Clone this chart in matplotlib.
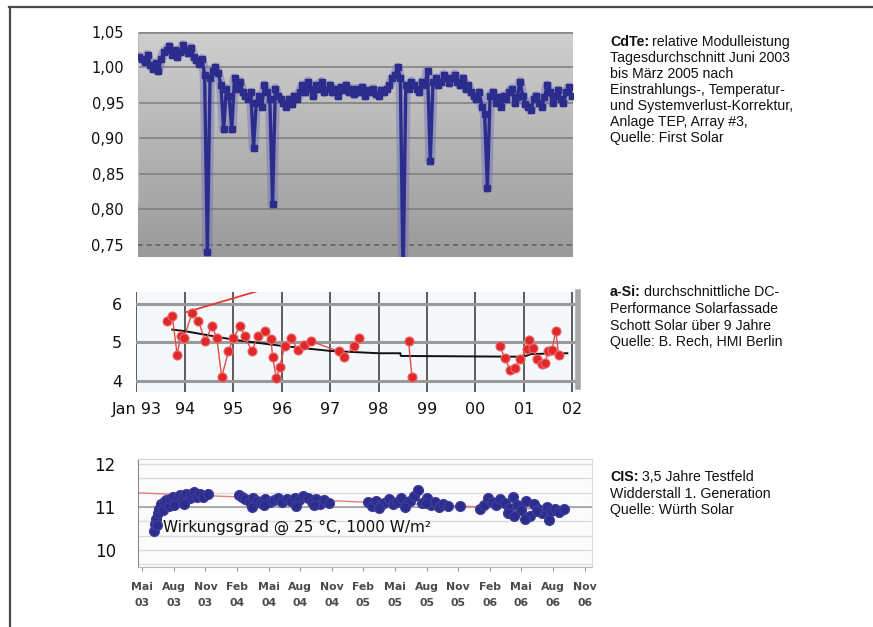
import numpy as np
import matplotlib
matplotlib.use("Agg")
import matplotlib.pyplot as plt
from matplotlib.colors import LinearSegmentedColormap
from matplotlib.lines import Line2D

# ---------------- data ----------------
# CdTe: relative module power, daily-average samples (June 2003 .. March 2005)
cdte_values = [
    1.015, 1.012, 1.008, 1.018, 1.004, 0.998, 1.006, 0.995, 1.012, 1.022,
    1.025, 1.030, 1.018, 1.024, 1.015, 1.022, 1.032, 1.025, 1.020, 1.028,
    1.015, 1.010, 1.005, 1.012, 0.990, 0.740, 0.985, 0.995, 1.000, 0.992,
    0.975, 0.913, 0.970, 0.960, 0.913, 0.985, 0.970, 0.980, 0.965, 0.960,
    0.955, 0.965, 0.887, 0.950, 0.960, 0.945, 0.975, 0.965, 0.955, 0.807,
    0.970, 0.960, 0.955, 0.950, 0.945, 0.955, 0.948, 0.960, 0.955, 0.965,
    0.975, 0.965, 0.980, 0.970, 0.960, 0.975, 0.970, 0.980, 0.965, 0.970,
    0.975, 0.965, 0.970, 0.960, 0.972, 0.968, 0.975, 0.965, 0.970, 0.962,
    0.970, 0.965, 0.972, 0.960, 0.968, 0.965, 0.970, 0.962, 0.960, 0.968,
    0.965, 0.970, 0.975, 0.985, 0.990, 1.000, 0.985, 0.700, 0.975, 0.970,
    0.980, 0.975, 0.970, 0.965, 0.980, 0.975, 0.995, 0.868, 0.980, 0.985,
    0.975, 0.980, 0.990, 0.985, 0.978, 0.985, 0.990, 0.980, 0.975, 0.985,
    0.970, 0.975, 0.965, 0.960, 0.955, 0.965, 0.945, 0.935, 0.830, 0.960,
    0.965, 0.950, 0.958, 0.945, 0.960, 0.955, 0.965, 0.970, 0.950, 0.958,
    0.980, 0.960, 0.948, 0.945, 0.940, 0.955, 0.960, 0.950, 0.945, 0.958,
    0.975, 0.965, 0.950, 0.960, 0.968, 0.955, 0.950, 0.965, 0.972, 0.960,
]
cdte_yticks = [0.75, 0.80, 0.85, 0.90, 0.95, 1.00, 1.05]
cdte_yticklabels = ["0,75", "0,80", "0,85", "0,90", "0,95", "1,00", "1,05"]

# a-Si: average DC performance (NaN = gap in the record)
asi_years = [1993.63, 1993.74, 1993.84, 1993.91, 1993.98, 1994.15, 1994.28, 1994.42,
             1994.56, 1994.66, 1994.76, 1994.90, 1995.00, 1995.14, 1995.24, 1995.38,
             1995.51, 1995.65, 1995.78, 1995.81, 1995.89, 1995.96, 1996.06, 1996.20,
             1996.33, 1996.47, 1996.60, 1997.18, 1997.29, 1997.49, 1997.60,
             1997.80,
             1998.62, 1998.69,
             1999.50,
             2000.50, 2000.61, 2000.71, 2000.82, 2000.92, 2001.06, 2001.10, 2001.20,
             2001.27, 2001.37, 2001.44, 2001.51, 2001.58, 2001.66, 2001.72]
asi_values = [5.55, 5.68, 4.68, 5.16, 5.11, 5.77, 5.55, 5.03,
              5.42, 5.11, 4.11, 4.77, 5.11, 5.42, 5.16, 4.77,
              5.16, 5.30, 5.08, 4.63, 4.07, 4.37, 4.90, 5.11,
              4.80, 4.94, 5.03, 4.77, 4.63, 4.90, 5.11,
              np.nan,
              5.03, 4.11,
              np.nan,
              4.90, 4.60, 4.30, 4.35, 4.56, 4.82, 5.07, 4.85,
              4.56, 4.44, 4.48, 4.77, 4.80, 5.29, 4.68]
asi_trend_years = [1993.74, 1994.0, 1995.0, 1996.0, 1997.0, 1998.0, 1998.45, 1998.46,
                   2001.0, 2001.15, 2001.9]
asi_trend_values = [5.33, 5.29, 5.07, 4.91, 4.78, 4.72, 4.72, 4.65,
                    4.63, 4.70, 4.72]
asi_rise_years = [1994.0, 1995.6]
asi_rise_values = [5.77, 6.36]
asi_xticks = [1993, 1994, 1995, 1996, 1997, 1998, 1999, 2000, 2001, 2002]
asi_xticklabels = ["Jan 93", "94", "95", "96", "97", "98", "99", "00", "01", "02"]
asi_yticks = [4, 5, 6]

# CIS: efficiency @ 25 °C, 1000 W/m², months since May 2003
cis_months = [1.1, 1.2, 1.3, 1.45, 1.5, 1.6, 1.8, 1.95, 2.1, 2.3, 2.5, 2.6, 2.9, 3.1,
              3.3, 3.6, 3.8, 3.9, 4.2, 4.5, 4.6, 4.9, 5.2, 5.5, 5.8, 6.2, 3.0, 4.0,
              9.2, 9.5, 9.8, 10.2, 10.5, 10.9, 11.3, 11.7, 12.1, 12.5, 12.9, 13.3,
              13.7, 14.1, 14.5, 14.9, 15.3, 15.7, 16.1, 16.5, 16.9, 17.3, 17.7, 10.4, 11.6,
              14.6, 16.3,
              21.4, 21.8, 22.2, 22.6, 23.0, 23.4, 23.8, 24.2, 24.6, 25.0, 25.4, 25.8,
              26.2, 26.6, 27.0, 27.4, 27.8, 28.2, 28.6, 29.0, 22.5, 24.9, 26.9,
              30.2,
              32.1, 32.4, 32.8, 33.2, 33.6, 34.0, 34.4, 34.8, 35.2, 35.6, 36.0, 36.4,
              36.8, 37.2, 37.6, 38.0, 38.4, 38.8, 39.2, 39.6, 40.0, 34.7, 35.3, 37.5,
              36.3, 38.6]
cis_values = [10.45, 10.60, 10.72, 10.57, 10.85, 10.96, 11.08, 10.92, 11.12, 11.16, 11.02,
              11.18, 11.24, 11.10, 11.22, 11.28, 11.14, 11.25, 11.31, 11.20, 11.30, 11.35,
              11.24, 11.31, 11.24, 11.30, 11.05, 11.08,
              11.28, 11.24, 11.18, 11.12, 11.20, 11.14, 11.10, 11.18, 11.12, 11.16, 11.20,
              11.12, 11.18, 11.15, 11.22, 11.16, 11.25, 11.20, 11.12, 11.18, 11.08, 11.16,
              11.10, 11.00, 11.04, 11.02, 11.05,
              11.12, 11.02, 11.15, 11.05, 11.10, 11.18, 11.06, 11.12, 11.22, 11.08, 11.15,
              11.25, 11.40, 11.10, 11.20, 11.05, 11.12, 11.00, 11.08, 11.02, 10.98, 11.00,
              11.10,
              11.02,
              10.96, 11.05, 11.20, 11.12, 11.05, 11.18, 11.10, 10.98, 11.24, 11.05, 10.92,
              11.15, 10.80, 11.08, 10.95, 10.85, 11.00, 10.90, 10.95, 10.88, 10.95,
              10.85, 10.78, 10.90, 10.72, 10.70]
cis_trend_months = [-0.4, 40.5]
cis_trend_values = [11.33, 10.92]
cis_xticklabels = ["Mai\n03", "Aug\n03", "Nov\n03", "Feb\n04", "Mai\n04", "Aug\n04",
                   "Nov\n04", "Feb\n05", "Mai\n05", "Aug\n05", "Nov\n05", "Feb\n06",
                   "Mai\n06", "Aug\n06", "Nov\n06"]
cis_yticks = [10, 11, 12]

note_cdte = ["relative Modulleistung", "Tagesdurchschnitt Juni 2003", "bis März 2005 nach",
             "Einstrahlungs-, Temperatur-", "und Systemverlust-Korrektur,",
             "Anlage TEP, Array #3,", "Quelle: First Solar"]
note_asi = ["durchschnittliche DC-", "Performance Solarfassade",
            "Schott Solar über 9 Jahre", "Quelle: B. Rech, HMI Berlin"]
note_cis = ["3,5 Jahre Testfeld", "Widderstall 1. Generation", "Quelle: Würth Solar"]

# ---------------- figure ----------------
W, H = 873, 627
fig = plt.figure(figsize=(W / 100, H / 100), dpi=100)
fig.patch.set_facecolor("white")


def box(l, t, r, b):
    return [l / W, 1 - b / H, (r - l) / W, (b - t) / H]


# frame lines
fig.add_artist(Line2D([9 / W, 1], [1 - 6.5 / H, 1 - 6.5 / H], transform=fig.transFigure,
                      color="#4a4a4a", lw=1.6))
fig.add_artist(Line2D([9.5 / W, 9.5 / W], [0, 1 - 6.5 / H], transform=fig.transFigure,
                      color="#4a4a4a", lw=1.6))

navy = "#2c2c8c"

# ---- CdTe ----
ax1 = fig.add_axes(box(138, 32, 573, 257))
cmap = LinearSegmentedColormap.from_list("g", ["#9a9a9a", "#cfcfcf"])
grad = np.linspace(0, 1, 256).reshape(-1, 1)
ax1.imshow(grad, extent=[0, 1, 0, 1], transform=ax1.transAxes, aspect="auto",
           cmap=cmap, origin="lower", zorder=0)
x1 = np.arange(len(cdte_values))
for yv in cdte_yticks[1:]:
    ax1.axhline(yv, color="#7c7c7c", lw=1.1, zorder=1)
ax1.axhline(1.05, color="#8a8a8a", lw=2.0, zorder=1)
ax1.axhline(0.75, color="#6a6a6a", lw=1.4, ls=(0, (2.5, 2)), zorder=1)
ax1.plot(x1, cdte_values, color="#6e6eb8", lw=7, alpha=0.45, zorder=2,
         solid_joinstyle="round", solid_capstyle="round")
ax1.plot(x1, cdte_values, color=navy, lw=2.4, marker="s", ms=4.6, mec=navy, zorder=3,
         solid_joinstyle="round")
ax1.set_xlim(-0.5, len(cdte_values) - 0.5)
ax1.set_ylim(0.733, 1.05)
ax1.set_yticks(cdte_yticks)
ax1.set_yticklabels(cdte_yticklabels)
ax1.set_xticks([])
ax1.tick_params(axis="y", length=0, pad=10, labelsize=10.5, labelcolor="#111111")
for s in ax1.spines.values():
    s.set_visible(False)
ax1.axvline(-0.5, ymin=0.25, ymax=1, color="#bdbdbd", lw=1.0, zorder=1)

# ---- a-Si ----
ax2 = fig.add_axes(box(136, 292, 578, 392))
ax2.set_facecolor("#f5f8fb")
for xv in asi_xticks:
    ax2.axvline(xv, color="#4f4f4f", lw=1.3, zorder=1)
for yv in asi_yticks:
    ax2.axhline(yv, color="#9a9a9a", lw=2.2, zorder=1)
ax2.plot(asi_trend_years, asi_trend_values, color="#101010", lw=1.4, zorder=3)
ax2.plot(asi_rise_years, asi_rise_values, color="#e03a3a", lw=1.3, zorder=3)
ax2.plot(asi_years, asi_values, color="#e24a4a", lw=1.0, marker="o", ms=6.5,
         mfc="#e02828", mec="#e86a6a", mew=0.8, zorder=4)
ax2.set_xlim(1992.99, 2002.12)
ax2.set_ylim(3.72, 6.3)
ax2.set_xticks(asi_xticks)
ax2.set_xticklabels(asi_xticklabels)
ax2.set_yticks(asi_yticks)
ax2.tick_params(axis="both", length=0, labelsize=11.5, labelcolor="#111111")
ax2.tick_params(axis="y", pad=10)
ax2.tick_params(axis="x", pad=7)
for k, s in ax2.spines.items():
    s.set_visible(False)
ax2.spines["right"].set_visible(True)
ax2.spines["right"].set_color("#a8a8a8")
ax2.spines["right"].set_linewidth(4)
ax2.spines["right"].set_bounds(3.85, 6.3)

# ---- CIS ----
ax3 = fig.add_axes(box(138, 459, 592, 567))
ax3.set_facecolor("#fbfbfb")
for yv in np.arange(9.667, 12.1, 1 / 3):
    ax3.axhline(yv, color="#e2dada", lw=1.0, zorder=1)
ax3.axhline(11, color="#a0a0a0", lw=1.2, zorder=1)
ax3.plot(cis_trend_months, cis_trend_values, color="#e08080", lw=1.0, zorder=2)
ax3.plot(cis_months, cis_values, ls="none", marker="o", ms=7.0, color=navy,
         mec="#3b3b9a", zorder=3)
ax3.text(2.0, 10.52, "Wirkungsgrad @ 25 °C, 1000 W/m²", fontsize=11,
         ha="left", va="center", color="#111111", zorder=5)
ax3.set_xlim(-0.4, 42.7)
ax3.set_ylim(9.6, 12.12)
ax3.set_xticks(np.arange(0, 43, 3))
ax3.set_xticklabels(cis_xticklabels)
ax3.set_yticks(cis_yticks)
ax3.tick_params(axis="y", length=0, pad=16, labelsize=12, labelcolor="#111111")
ax3.tick_params(axis="x", length=3, color="#999999", pad=8, labelsize=7.8,
                labelcolor="#4a4a4a")
for lab in ax3.get_xticklabels():
    lab.set_fontweight("bold")
    lab.set_linespacing(1.75)
ax3.spines["top"].set_color("#d9cfc6")
ax3.spines["right"].set_color("#dddddd")
ax3.spines["left"].set_color("#8a8a8a")
ax3.spines["bottom"].set_color("#bbbbbb")

# ---- notes on the right ----
renderer = fig.canvas.get_renderer()
font_kw = dict(family="Liberation Sans", fontsize=10.2, color="#111111", va="center",
               ha="left")


def note(title, lines, y0, step):
    xf = 610 / W
    t = fig.text(xf, 1 - y0 / H, title, fontweight="bold", **font_kw)
    wpx = t.get_window_extent(renderer).width
    fig.text(xf + (wpx + 3.0) / W, 1 - y0 / H, lines[0], **font_kw)
    for i, line in enumerate(lines[1:], start=1):
        fig.text(xf, 1 - (y0 + i * step) / H, line, **font_kw)


note("CdTe:", note_cdte, 42, 16)
note("a-Si:", note_asi, 292.5, 16.5)
note("CIS:", note_cis, 477, 16.5)

fig.savefig("out.png", dpi=100)
